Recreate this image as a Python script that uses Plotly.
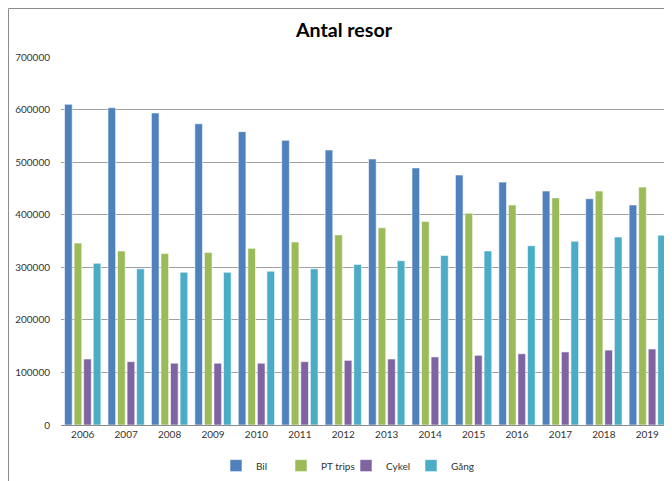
import plotly.graph_objects as go

years = ["2006", "2007", "2008", "2009", "2010", "2011", "2012",
         "2013", "2014", "2015", "2016", "2017", "2018", "2019"]
bil = [610000, 603500, 593500, 573000, 558000, 541500, 523000,
       506000, 489000, 475500, 462000, 445000, 430500, 418500]
pt_trips = [346000, 331000, 326000, 328000, 336000, 348000, 361500,
            375000, 387000, 403000, 418500, 432000, 445000, 452500]
cykel = [125500, 120500, 117500, 117500, 117500, 120500, 123000,
         125500, 129500, 132500, 135500, 139000, 142500, 144500]
gang = [307500, 297000, 290500, 290500, 292500, 297000, 305500,
        312500, 322500, 331000, 341000, 349500, 357500, 361000]

series = [
    ("Bil", bil, "#4F81BD"),
    ("PT trips", pt_trips, "#9BBB59"),
    ("Cykel", cykel, "#8064A2"),
    ("Gång", gang, "#4BACC6"),
]

fig = go.Figure()
for name, vals, col in series:
    fig.add_trace(go.Bar(
        x=years, y=vals, name=name,
        marker=dict(color=col, line=dict(color="rgba(255,255,255,0.7)", width=0.8)),
    ))

# page has an 8px body margin; figure coordinates are page - 8
W, H = 664, 473
L, R, T, B = 53, 3, 49, 56
pw = W - L - R
ph = H - T - B

fig.update_layout(
    width=W, height=H,
    margin=dict(l=L, r=R, t=T, b=B, pad=0, autoexpand=False),
    paper_bgcolor="white", plot_bgcolor="white",
    barmode="group", bargap=0.12, bargroupgap=0.2,
    font=dict(family="Lato, 'Open Sans', sans-serif", size=10, color="#333333"),
    title=dict(text="<b>Antal resor</b>", x=336 / W, xanchor="center",
               xref="container", yref="container", y=1 - 22 / H, yanchor="middle",
               font=dict(size=19.6, color="#000000", family="Lato, 'Open Sans', sans-serif")),
    xaxis=dict(showgrid=False, showline=True, linecolor="#8c8c8c", linewidth=1,
               ticks="", tickangle=0, tickfont=dict(size=10, color="#333333")),
    yaxis=dict(range=[0, 700000], dtick=100000, showgrid=True, gridcolor="#a0a0a0",
               gridwidth=1.3, zeroline=False, showline=False, tickformat="d",
               ticks="outside", ticklen=8, tickcolor="rgba(0,0,0,0)",
               tickfont=dict(size=10, color="#333333")),
    legend=dict(orientation="h", x=338 / W, xref="container", xanchor="center",
                yref="container", y=1 - 457.6 / H, yanchor="middle",
                font=dict(size=10, color="#333333"), traceorder="normal",
                entrywidth=20, entrywidthmode="pixels"),
    showlegend=True,
)

fig.add_shape(type="rect", xref="paper", yref="paper",
              x0=(0.5 - L) / pw, x1=(W + 20 - L) / pw,
              y0=(417 - H - 20) / ph, y1=(417 - 0.5) / ph,
              line=dict(color="#8c8c8c", width=1), fillcolor="rgba(0,0,0,0)", layer="below")

fig.write_html("out.html")
